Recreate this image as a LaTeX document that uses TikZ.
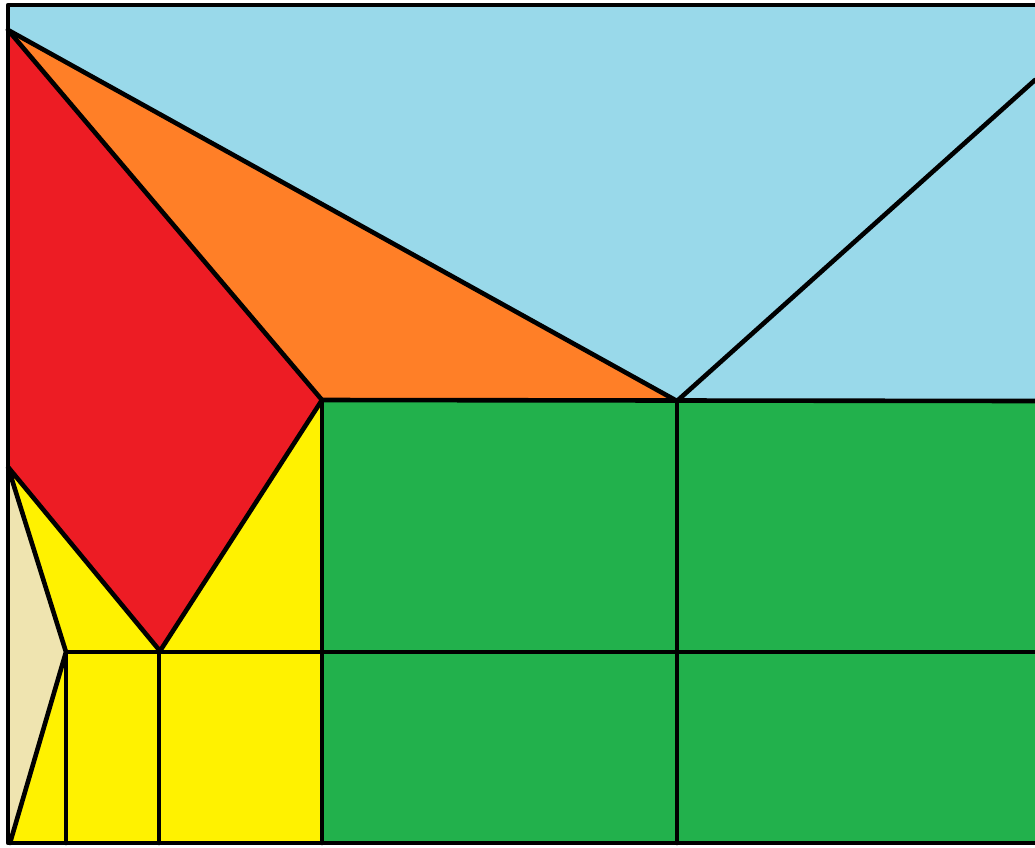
\documentclass[tikz,border=0pt]{standalone}
\definecolor{pblue}{HTML}{99D9EA}
\definecolor{porange}{HTML}{FF7F27}
\definecolor{pred}{HTML}{ED1C24}
\definecolor{pgreen}{HTML}{22B14C}
\definecolor{pyellow}{HTML}{FFF200}
\definecolor{pbeige}{HTML}{EFE4B0}
\begin{document}
\begin{tikzpicture}[x=1pt,y=-1pt,edge/.style={line width=4.6pt,line join=round,line cap=round}]
\useasboundingbox (0,0) rectangle (1035,847);
\clip (0,0) rectangle (1035,847);
\coordinate (TL) at (8,5);
\coordinate (TR) at (1035,5);
\coordinate (BL) at (8,843);
\coordinate (BR) at (1035,843);
\coordinate (A) at (8,30);
\coordinate (J) at (322,400);
\coordinate (V) at (677,401);
\coordinate (R) at (1035,80);
\coordinate (GR) at (1035,401);
\coordinate (L) at (8,467);
\coordinate (Rb) at (160,651);
\coordinate (Bk) at (66,652);
\coordinate (Bb) at (10,843);
\coordinate (HR) at (1035,652);
% fills
\fill[pblue] (TL) -- (TR) -- (GR) -- (V) -- (A) -- cycle;
\fill[porange] (A) -- (V) -- (J) -- cycle;
\fill[pred] (A) -- (J) -- (Rb) -- (L) -- cycle;
\fill[pgreen] (J) -- (GR) -- (BR) -- (322,843) -- cycle;
\fill[pyellow] (L) -- (Rb) -- (J) -- (322,843) -- (BL) -- cycle;
\fill[pbeige] (L) -- (Bk) -- (Bb) -- (BL) -- cycle;
% edges
\draw[edge] (TR) -- (TL) -- (BL) -- (BR);
\draw[edge] (A) -- (V) -- (R);
\draw[edge] (A) -- (J) -- (Rb) -- (L) -- (Bk) -- (Bb);
\draw[edge] (J) -- (GR);
\draw[edge] (J) -- (322,843);
\draw[edge] (V) -- (677,843);
\draw[edge] (Bk) -- (HR);
\draw[edge] (Bk) -- (66,843);
\draw[edge] (159,652) -- (159,843);
\end{tikzpicture}
\end{document}
